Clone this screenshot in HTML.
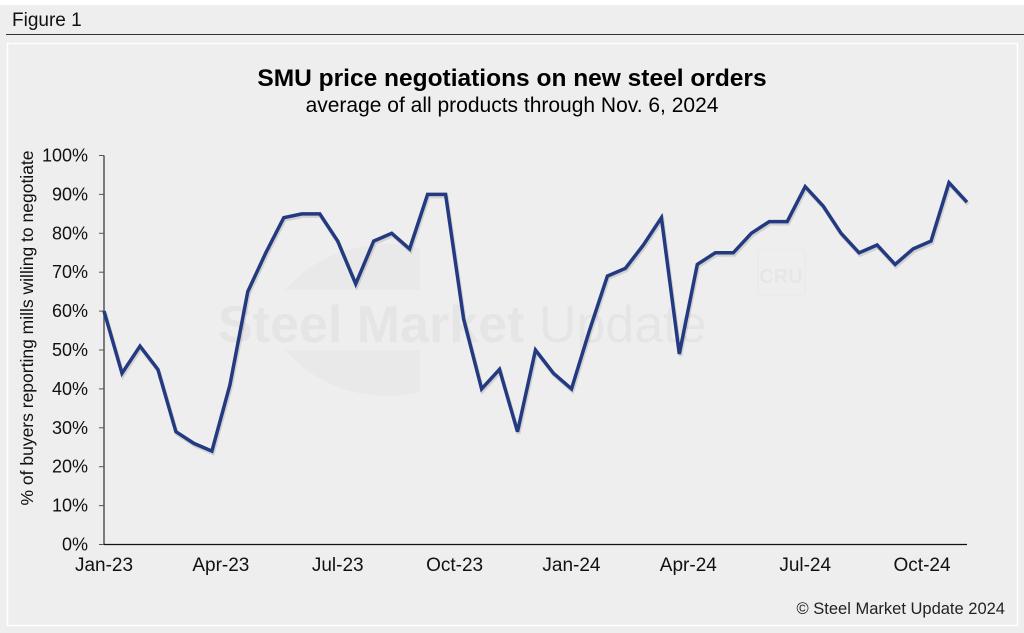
<!DOCTYPE html>
<html><head><meta charset="utf-8"><style>
body{margin:0;width:1024px;height:633px;background:#fff;font-family:"Liberation Sans",sans-serif;overflow:hidden}
#wrap{position:absolute;left:0;top:5px;width:1024px;height:628px;background:#eeeeee}
</style></head><body>
<div id="wrap"></div>
<svg id="c" width="1024" height="633" style="position:absolute;left:0;top:0">
<text x="12" y="26" font-size="19" fill="#111">Figure 1</text>
<line x1="6" y1="34.5" x2="1024" y2="34.5" stroke="#333" stroke-width="1"/>
<rect x="7.5" y="43.5" width="1010" height="582" fill="#eeeeee" stroke="#fff" stroke-width="1.5"/>
<g opacity="0.45">
<path d="M285,290 A130,120 0 0 1 420,248 L420,290 Z" fill="#e3e3e3"/>
<path d="M285,350 A130,120 0 0 0 420,392 L420,350 Z" fill="#e3e3e3"/>
<text x="218" y="342" font-size="52" font-weight="bold" fill="#dcdcdc">Steel Market <tspan font-weight="normal">Update</tspan></text>
<rect x="758" y="250" width="47" height="45" rx="2" fill="none" stroke="#e2e2e2"/>
<text x="781" y="283" font-size="20" font-weight="bold" fill="#dedede" text-anchor="middle">CRU</text>
</g>
<text x="512" y="86" font-size="24.5" font-weight="bold" text-anchor="middle" fill="#000">SMU price negotiations on new steel orders</text>
<text x="512" y="112" font-size="21" text-anchor="middle" fill="#000">average of all products through Nov. 6, 2024</text>
<text transform="translate(33,328) rotate(-90)" font-size="17.5" text-anchor="middle" fill="#111">% of buyers reporting mills willing to negotiate</text>
<text x="1005" y="614" font-size="16.5" text-anchor="end" fill="#222">© Steel Market Update 2024</text>
<g id="axes"></g>
</svg>
<script>
const values=[60,44,51,45,29,26,24,41,65,75,84,85,85,78,67,78,80,76,90,90,58,40,45,29,50,44,40,55,69,71,77,84,49,72,75,75,80,83,83,92,87,80,75,77,72,76,78,93,88];
const yTicks=[0,10,20,30,40,50,60,70,80,90,100];
const xLabels=["Jan-23","Apr-23","Jul-23","Oct-23","Jan-24","Apr-24","Jul-24","Oct-24"];
const xLabelIdx=[0,6.5,13,19.5,26,32.5,39,45.5];
const X0=104,X1=967,Y0=544.5,Y1=155.5;
const xs=i=>X0+(X1-X0)*i/(values.length-1);
const ys=v=>Y0-(Y0-Y1)*v/100;
const NS="http://www.w3.org/2000/svg",g=document.getElementById('axes');
function mk(t,a){const e=document.createElementNS(NS,t);for(const k in a)e.setAttribute(k,a[k]);g.appendChild(e);return e;}
const ya=mk('line',{x1:X0,y1:Y1,x2:X0,y2:Y0,stroke:'#555','stroke-width':1.5});


const xa=mk('line',{x1:X0,y1:Y0,x2:X1,y2:Y0,stroke:'#111','stroke-width':1.2});


yTicks.forEach(v=>{
 const tk=mk('line',{x1:X0-5,y1:ys(v),x2:X0,y2:ys(v),stroke:'#555','stroke-width':1});
 
 
 const t=mk('text',{x:X0-16,y:ys(v)+6,'font-size':18,'text-anchor':'end',fill:'#111'});
 t.textContent=v+'%';
 
 
});
xLabels.forEach((l,k)=>{
 const t=mk('text',{x:xs(xLabelIdx[k]),y:571,'font-size':19,'text-anchor':'middle',fill:'#111'});
 t.textContent=l;
 
 
});
const pts=values.map((v,i)=>xs(i).toFixed(1)+','+ys(v).toFixed(1)).join(' ');
const sh=mk('polyline',{points:pts,fill:'none',stroke:'rgba(0,0,0,0.12)','stroke-width':4,transform:'translate(1,2)','stroke-linejoin':'miter'});


const ln=mk('polyline',{points:pts,fill:'none',stroke:'#233a80','stroke-width':3.5,'stroke-linejoin':'miter'});


</script>
</body></html>
